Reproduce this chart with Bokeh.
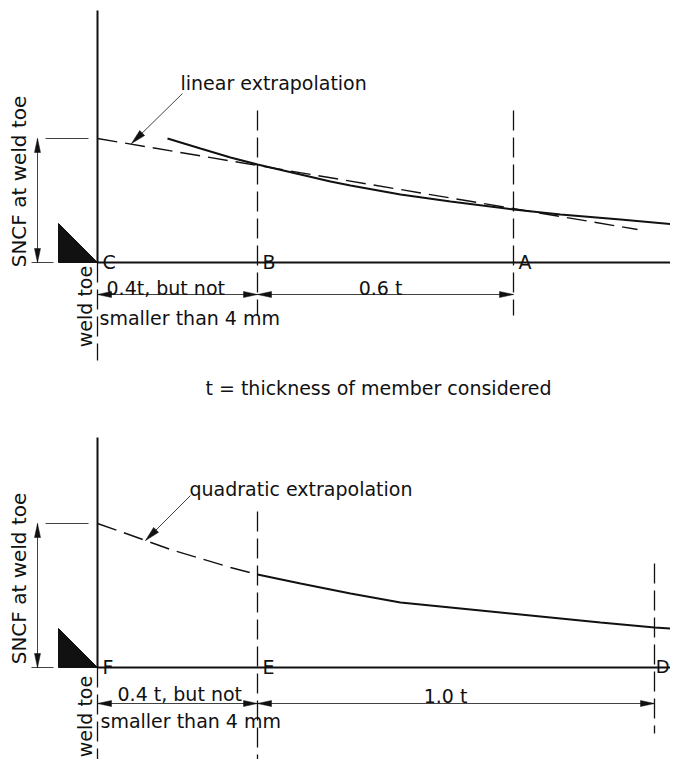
import math
from bokeh.plotting import figure
from bokeh.models import Range1d
from bokeh.core.properties import value
from bokeh.embed import file_html
from bokeh.resources import INLINE

# ---------------- data (drawing coordinates) ----------------
# top panel: measured stress curve and linear extrapolation through B and A
top_curve_x = [167, 200, 230, 257, 300, 330, 350, 400, 450, 513, 560, 620, 675]
top_curve_y = [138, 148, 157, 164, 174, 181, 185, 194, 201, 209, 214, 219, 224]
top_linear_x = [97, 637]
top_linear_y = [138, 229]
top_ref_x = [97, 257, 513]          # C, B, A
top_ref_labels = ["C", "B", "A"]
top_base_y = 262
top_sncf_y = 138

# bottom panel: measured stress curve and quadratic extrapolation
bot_curve_x = [257, 300, 350, 400, 450, 500, 550, 600, 654, 682]
bot_curve_y = [574, 583, 593, 602, 607, 612, 617, 622, 627, 629]
bot_quad_x = [97, 120, 145, 170, 200, 230, 257]
bot_quad_y = [523, 531, 540, 549, 558, 567, 574]
bot_ref_x = [97, 257, 654]          # F, E, D
bot_ref_labels = ["F", "E", "D"]
bot_base_y = 667
bot_sncf_y = 523

INK = "#111111"
FONT = value("DejaVu Sans")
W, H = 670, 759

p = figure(width=W, height=H, x_range=Range1d(0, W), y_range=Range1d(H, 0),
           output_backend="svg", toolbar_location=None, min_border=0,
           x_axis_location=None, y_axis_location=None)
p.outline_line_color = None
p.xgrid.visible = False
p.ygrid.visible = False
p.background_fill_color = "white"


def arrowhead(tip, frm, L=14, w=3):
    tx, ty = tip
    fx, fy = frm
    d = math.hypot(tx - fx, ty - fy)
    ux, uy = (tx - fx) / d, (ty - fy) / d
    bx, by = tx - ux * L, ty - uy * L
    nx, ny = -uy, ux
    return [tx, bx + nx * w, bx - nx * w], [ty, by + ny * w, by - ny * w]


heads_x, heads_y = [], []


def add_head(tip, frm, L=14, w=3):
    hx, hy = arrowhead(tip, frm, L, w)
    heads_x.append(hx)
    heads_y.append(hy)


def txt(x, y, s, size, align="left", baseline="alphabetic", angle=0.0):
    p.text(x=[x], y=[y], text=[s], text_font=FONT, text_font_size=f"{size}px",
           text_color=INK, text_align=align, text_baseline=baseline, angle=angle)


def panel(base_y, sncf_y, axis_top, ref_x, labels, dashed_spans, curve_x, curve_y,
          ext_x, ext_y, ext_label, ext_label_xy, leader, dim_y, dim_texts, weld_toe_center,
          sncf_center):
    x0 = ref_x[0]
    # axes
    p.line([x0, x0], [axis_top, base_y], line_color=INK, line_width=2)
    p.line([x0, 686], [base_y, base_y], line_color=INK, line_width=2)
    # weld fillet
    p.patch([x0 - 39, x0 - 39, x0], [base_y - 39, base_y, base_y], fill_color=INK,
            line_color=INK, line_width=1)
    # SNCF dimension
    p.line([45, x0 - 9], [sncf_y, sncf_y], line_color=INK, line_width=0.8)
    p.line([31, 53], [base_y, base_y], line_color=INK, line_width=0.8)
    p.line([37, 37], [sncf_y, base_y], line_color=INK, line_width=0.8)
    add_head((37, sncf_y), (37, base_y))
    add_head((37, base_y), (37, sncf_y))
    # vertical dashed reference lines
    for (vx, y1, y2) in dashed_spans:
        p.line([vx, vx], [y1, y2], line_color=INK, line_width=1.3, line_dash="20 7")
    # reference point labels (kept inside the right page edge)
    for vx, lab in zip(ref_x, labels):
        if vx + 20 > W:
            txt(W - 1, base_y - 1, lab, 18, align="right")
        else:
            txt(vx + 5, base_y - 1, lab, 19)
    # curves
    p.line(curve_x, curve_y, line_color=INK, line_width=2)
    p.line(ext_x, ext_y, line_color=INK, line_width=1.4, line_dash="20 8")
    # leader line with arrow
    (lx1, ly1), (lx2, ly2) = leader
    p.line([lx1, lx2], [ly1, ly2], line_color=INK, line_width=0.8)
    add_head((lx2, ly2), (lx1, ly1), L=15, w=3.5)
    txt(ext_label_xy[0], ext_label_xy[1], ext_label, 19)
    # dimension arrows
    p.line([ref_x[0], ref_x[2]], [dim_y, dim_y], line_color=INK, line_width=0.8)
    add_head((ref_x[0], dim_y), (ref_x[1], dim_y))
    add_head((ref_x[1], dim_y), (ref_x[0], dim_y))
    add_head((ref_x[1], dim_y), (ref_x[2], dim_y))
    add_head((ref_x[2], dim_y), (ref_x[1], dim_y))
    for (tx, ty, s, al) in dim_texts:
        txt(tx, ty, s, 19, align=al)
    txt(weld_toe_center[0], weld_toe_center[1], "weld toe", 19, align="center",
        baseline="middle", angle=math.pi / 2)
    txt(sncf_center[0], sncf_center[1], "SNCF at weld toe", 20, align="center",
        baseline="middle", angle=math.pi / 2)


panel(top_base_y, top_sncf_y, 10, top_ref_x, top_ref_labels,
      [(97, top_base_y, 360), (257, 110, 315), (513, 110, 315)],
      top_curve_x, top_curve_y, top_linear_x, top_linear_y,
      "linear extrapolation", (180, 82), ((182, 93), (131, 143)), 294,
      [(106, 287, "0.4t, but not", "left"), (99, 317, "smaller than 4 mm", "left"),
       (380, 287, "0.6 t", "center")],
      (84, 306), (18, 181))

panel(bot_base_y, bot_sncf_y, 437, bot_ref_x, bot_ref_labels,
      [(97, bot_base_y, 767), (257, 511, 767), (654, 563, 733)],
      bot_curve_x, bot_curve_y, bot_quad_x, bot_quad_y,
      "quadratic extrapolation", (189, 488), ((190, 495), (145, 540)), 703,
      [(117, 693, "0.4 t, but not", "left"), (100, 720, "smaller than 4 mm", "left"),
       (445, 695, "1.0 t", "center")],
      (84, 716), (18, 578))

txt(378, 387, "t = thickness of member considered", 19, align="center")

p.patches(heads_x, heads_y, fill_color=INK, line_color=INK, line_width=0.5)

open("out.html", "w").write(file_html(p, INLINE))
